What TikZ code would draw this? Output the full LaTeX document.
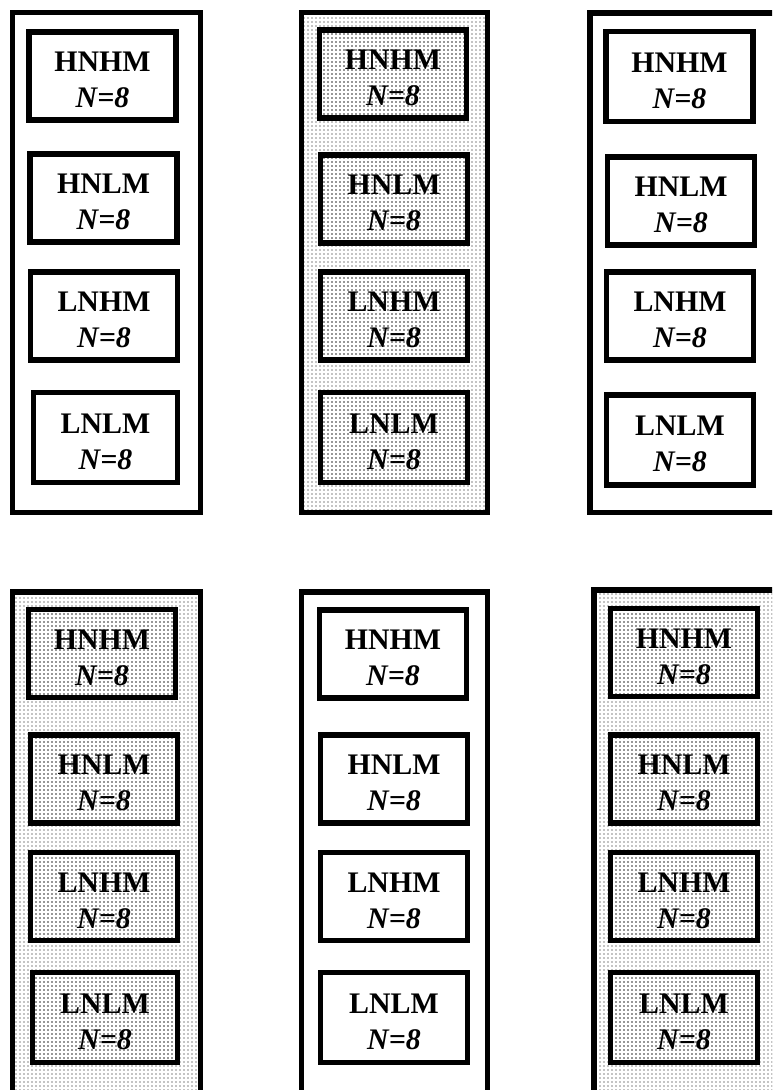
\documentclass[tikz,border=0pt]{standalone}
\usepackage{fontspec}
\setmainfont{Liberation Serif}
\usetikzlibrary{patterns}
\newcommand{\cnd}[1]{\rule{0pt}{20.8pt}#1\\\textit{N=8}}
\begin{document}
\begin{tikzpicture}[x=0.75pt,y=-0.75pt,
  panel/.style={draw=black,line width=4.2pt},
  dotpanel/.style={panel,pattern=dots,pattern color=black},
  cond/.style={draw=black,line width=4.2pt,rectangle,inner sep=0pt,
    minimum width=147*0.75pt,minimum height=88*0.75pt,align=center,
    font=\fontsize{22.4}{27}\selectfont\bfseries},
  dotcond/.style={cond,pattern=dots,pattern color=black}]
\useasboundingbox (0,0) rectangle (772,1090);
\clip (0,0) rectangle (772,1090);
% top row
\draw[panel] (12.5,12.5) rectangle (200.5,512.5);
\draw[dotpanel] (301.5,12.5) rectangle (487.5,512.5);
\draw[panel] (590,13) rectangle (800,512.5);
% bottom row
\draw[dotpanel] (12.5,592) rectangle (200.5,1110);
\draw[panel] (301.5,592) rectangle (487.5,1110);
\draw[dotpanel] (594,590) rectangle (800,1110);
% panel 1
\node[cond] (a1) at (102.5,76) {\cnd{HNHM}};
\node[cond] (a2) at (103.5,198) {\cnd{HNLM}};
\node[cond] (a3) at (104,316) {\cnd{LNHM}};
\node[cond,minimum width=144*0.75pt,minimum height=90*0.75pt] (a4) at (105.5,437.5) {\cnd{LNLM}};
% panel 2
\node[dotcond] (b1) at (393,74) {\cnd{HNHM}};
\node[dotcond] (b2) at (394,199) {\cnd{HNLM}};
\node[dotcond] (b3) at (394,316) {\cnd{LNHM}};
\node[dotcond,minimum height=90*0.75pt] (b4) at (394,437.5) {\cnd{LNLM}};
% panel 3
\node[cond,minimum height=90*0.75pt] (c1) at (679.5,76.5) {\cnd{HNHM}};
\node[cond] (c2) at (681,201) {\cnd{HNLM}};
\node[cond] (c3) at (680,316) {\cnd{LNHM}};
\node[cond,minimum height=90*0.75pt] (c4) at (680,440) {\cnd{LNLM}};
% panel 4
\node[dotcond] (d1) at (102,653.5) {\cnd{HNHM}};
\node[dotcond] (d2) at (104,779) {\cnd{HNLM}};
\node[dotcond] (d3) at (104,896.5) {\cnd{LNHM}};
\node[dotcond,minimum width=145*0.75pt,minimum height=90*0.75pt] (d4) at (105,1017.5) {\cnd{LNLM}};
% panel 5
\node[cond] (e1) at (393,654) {\cnd{HNHM}};
\node[cond] (e2) at (394,779) {\cnd{HNLM}};
\node[cond] (e3) at (394,896.5) {\cnd{LNHM}};
\node[cond,minimum height=90*0.75pt] (e4) at (394,1017.5) {\cnd{LNLM}};
% panel 6
\node[dotcond] (f1) at (684,652.5) {\cnd{HNHM}};
\node[dotcond] (f2) at (684,779) {\cnd{HNLM}};
\node[dotcond] (f3) at (684,896.5) {\cnd{LNHM}};
\node[dotcond,minimum height=90*0.75pt] (f4) at (684,1017.5) {\cnd{LNLM}};
\end{tikzpicture}
\end{document}
